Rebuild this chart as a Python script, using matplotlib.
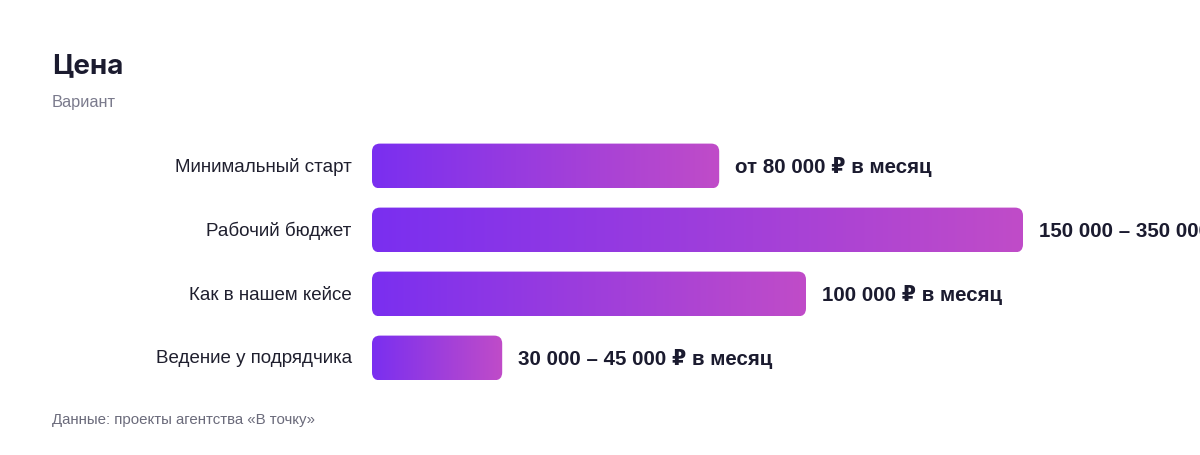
import matplotlib
matplotlib.use('Agg')
import matplotlib.pyplot as plt
import numpy as np
from matplotlib.patches import FancyBboxPatch
from matplotlib.colors import LinearSegmentedColormap

# Данные
categories = ['Минимальный старт', 'Рабочий бюджет', 'Как в нашем кейсе', 'Ведение у подрядчика']
values = [80000, 150000, 100000, 30000]
value_labels = ['от 80 000 ₽ в месяц', '150 000 – 350 000 ₽ в месяц',
                '100 000 ₽ в месяц', '30 000 – 45 000 ₽ в месяц']

FONT = ['Liberation Sans', 'DejaVu Sans']
plt.rcParams['font.family'] = FONT

W, H = 1200, 456
fig = plt.figure(figsize=(W / 100, H / 100), dpi=100, facecolor='white')

# Оси в пикселях
left, right = 372, 1023
top, bottom = 135, 391
ax = fig.add_axes([left / W, (H - bottom) / H, (right - left) / W, (bottom - top) / H])
ax.set_xlim(0, max(values))
ax.set_ylim(len(values) - 0.5, -0.5)
ax.axis('off')

cmap = LinearSegmentedColormap.from_list('grad', ['#7a2ff0', '#c04cc8'])
grad = np.linspace(0, 1, 256).reshape(1, -1)

ppx = (right - left) / max(values)
ppy = (bottom - top) / len(values)
radius_px = 8
bar_h = 0.7

for i, (v, lab) in enumerate(zip(values, value_labels)):
    y0 = i - bar_h / 2
    patch = FancyBboxPatch((0, y0), v, bar_h,
                           boxstyle=f'round,pad=0,rounding_size={radius_px / ppx}',
                           mutation_aspect=ppx / ppy,
                           facecolor='none', edgecolor='none')
    ax.add_patch(patch)
    im = ax.imshow(grad, cmap=cmap, aspect='auto', extent=(0, v, i + bar_h / 2, y0),
                   interpolation='bicubic')
    im.set_clip_path(patch)
    ax.annotate(lab, xy=(v, i), xytext=(11.5, 0), textcoords='offset points',
                va='center', ha='left', fontsize=14.8, fontweight='bold',
                color='#1b1b2f', family=FONT, annotation_clip=False)
    ax.annotate(categories[i], xy=(0, i), xytext=(-14.5, 0), textcoords='offset points',
                va='center', ha='right', fontsize=13.5, color='#1f1f2e', family=FONT,
                annotation_clip=False)

ax.set_xlim(0, max(values))
ax.set_ylim(len(values) - 0.5, -0.5)

# Заголовки
fig.text(52 / W, 1 - 66 / H, 'Цена', fontsize=20, fontweight='bold',
         color='#1b1b2f', va='center', ha='left', family=['Inter', 'DejaVu Sans'])
fig.text(52 / W, 1 - 103 / H, 'Вариант', fontsize=11.8, color='#7a7a8c',
         va='center', ha='left')
fig.text(52 / W, 1 - 420 / H, 'Данные: проекты агентства «В точку»', fontsize=10.8,
         color='#6b6b7b', va='center', ha='left')

plt.savefig('out.png', dpi=100, facecolor='white')
plt.close(fig)
